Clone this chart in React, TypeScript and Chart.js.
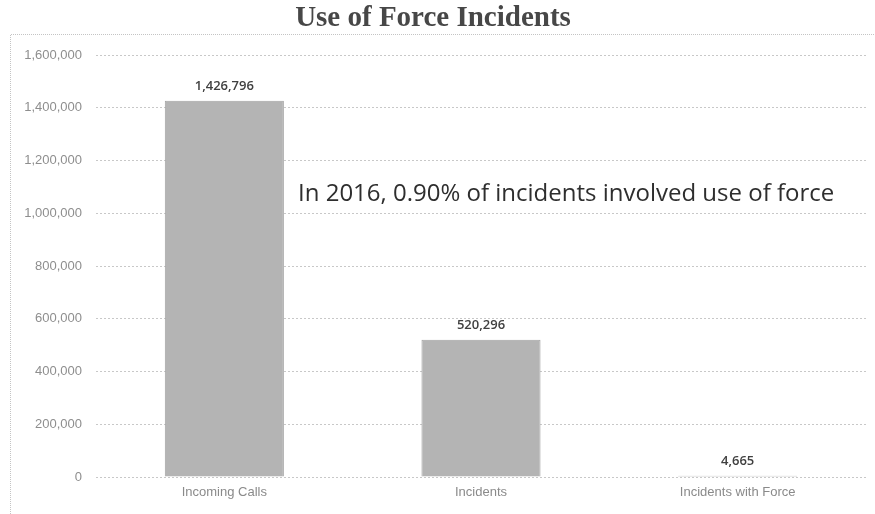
import React, { useEffect, useRef } from "react";
import { Chart, registerables } from "chart.js";

Chart.register(...registerables);

const categories = ["Incoming Calls", "Incidents", "Incidents with Force"];
const values = [1426796, 520296, 4665];
const yTicks = [0, 200000, 400000, 600000, 800000, 1000000, 1200000, 1400000, 1600000];
const titleText = "Use of Force Incidents";
const noteText = "In 2016, 0.90% of incidents involved use of force";

const W = 875;
const H = 514;

export default function App() {
  const ref = useRef<HTMLCanvasElement | null>(null);

  useEffect(() => {
    document.body.style.margin = "0";
    const canvas = ref.current;
    if (!canvas) return;

    const framePlugin = {
      id: "frame",
      beforeDraw(chart: any) {
        const ctx = chart.ctx;
        ctx.save();
        ctx.fillStyle = "#ffffff";
        ctx.fillRect(0, 0, chart.width, chart.height);
        ctx.strokeStyle = "#c4c4c4";
        ctx.lineWidth = 1;
        ctx.setLineDash([1, 1]);
        ctx.beginPath();
        ctx.moveTo(10.5, chart.height);
        ctx.lineTo(10.5, 34.5);
        ctx.lineTo(chart.width, 34.5);
        ctx.stroke();
        ctx.restore();
      },
    };

    const labelPlugin = {
      id: "barLabels",
      afterDatasetsDraw(chart: any) {
        const ctx = chart.ctx;
        const meta = chart.getDatasetMeta(0);
        ctx.save();
        ctx.font = "600 13px 'Open Sans', sans-serif";
        ctx.fillStyle = "#404040";
        ctx.textAlign = "center";
        ctx.textBaseline = "middle";
        meta.data.forEach((bar: any, i: number) => {
          ctx.fillText(values[i].toLocaleString("en-US"), bar.x, bar.y - 14);
        });
        const area = chart.chartArea;
        const ys = chart.scales.y;
        ctx.font = "24px 'Open Sans', sans-serif";
        ctx.fillStyle = "#2e2e2e";
        ctx.textAlign = "left";
        ctx.fillText(noteText, area.left + 202, ys.getPixelForValue(1073000));
        ctx.restore();
      },
    };

    const chart = new Chart(canvas, {
      type: "bar",
      data: {
        labels: categories,
        datasets: [
          {
            data: values,
            backgroundColor: "#b4b4b4",
            borderColor: "#a2a2a2",
            borderWidth: 1,
            categoryPercentage: 1,
            barPercentage: 0.464,
          },
        ],
      },
      options: {
        responsive: false,
        animation: false,
        layout: { padding: { left: 0, right: 9, top: 0, bottom: 0 } },
        plugins: {
          legend: { display: false },
          tooltip: { enabled: false },
          title: {
            display: true,
            text: titleText,
            color: "#474747",
            font: { family: "'Liberation Serif', serif", size: 29, weight: "bold" },
            padding: { top: 1, bottom: 19.2 },
          },
        },
        scales: {
          x: {
            grid: { display: false, drawTicks: false },
            border: { display: false },
            ticks: {
              color: "#8a8a8a",
              padding: 8,
              font: { family: "'Liberation Sans', sans-serif", size: 13 },
            },
            afterFit(scale: any) {
              scale.height = 37;
            },
          },
          y: {
            min: 0,
            max: 1600000,
            afterBuildTicks(scale: any) {
              scale.ticks = yTicks.map((v) => ({ value: v }));
            },
            grid: {
              color: "#c8c8c8",
              drawTicks: false,
              lineWidth: 1,
            },
            border: { display: false, dash: [2, 2] },
            ticks: {
              color: "#8e8e8e",
              padding: 14,
              font: { family: "'Liberation Sans', sans-serif", size: 13 },
              callback: (v: any) => Number(v).toLocaleString("en-US"),
            },
            afterFit(scale: any) {
              scale.width = 96;
            },
          },
        },
      },
      plugins: [framePlugin, labelPlugin],
    } as any);

    return () => chart.destroy();
  }, []);

  return (
    <div style={{ width: W, height: H }}>
      <canvas ref={ref} width={W} height={H} style={{ width: W, height: H, display: "block" }} />
    </div>
  );
}
